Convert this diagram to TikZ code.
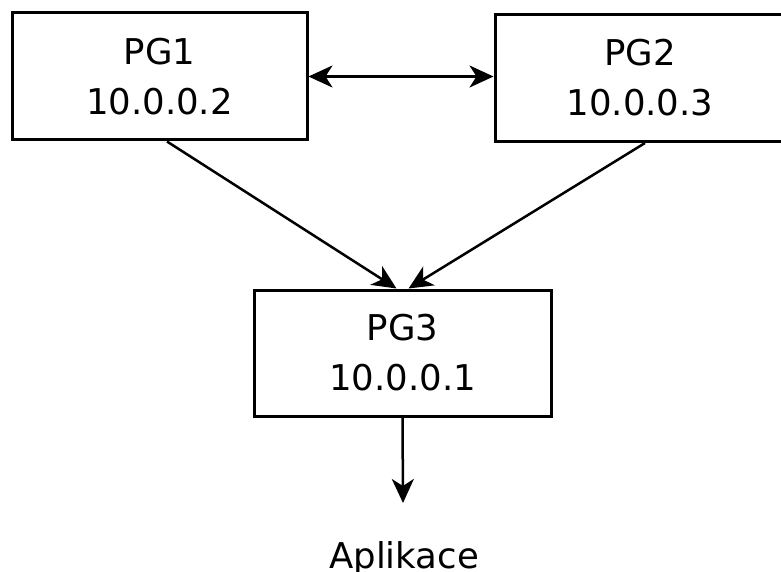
\documentclass[tikz,border=0pt]{standalone}
\usepackage{fontspec}
\setmainfont{DejaVu Sans}
\usetikzlibrary{arrows.meta}
\begin{document}
\begin{tikzpicture}[x=1pt,y=-1pt,
  box/.style={draw=black,line width=3pt,minimum width=#1,inner sep=0pt,align=center,
    font=\fontsize{35.5}{50}\selectfont},
  tipstyle/.style={Stealth[length=24pt,width=22pt,inset=7pt]},
  conn/.style={line width=2.5pt,-{Stealth[length=24pt,width=22pt,inset=7pt]}},
  lbl/.style={inner sep=0pt,font=\fontsize{35.5}{42}\selectfont}]
\useasboundingbox (0,0) rectangle (781,572);
\clip (0,0) rectangle (781,572);
\node[box=295pt,minimum height=127pt] (pg1) at (159.5,76.5) {PG1\\10.0.0.2};
\node[box=290pt,minimum height=127pt] (pg2) at (640,78) {PG2\\10.0.0.3};
\node[box=297pt,minimum height=126pt] (pg3) at (402.5,353) {PG3\\10.0.0.1};
\node[lbl,anchor=base] (app) at (404,568) {Aplikace};
\coordinate (tip) at (403,503);
\draw[line width=2.5pt,{Stealth[length=24pt,width=22pt,inset=7pt]}-{Stealth[length=24pt,width=22pt,inset=7pt]}] (pg1.east) -- (pg1.east -| pg2.west);
\draw[conn] ([xshift=7.5pt]pg1.south) -- ([xshift=-6pt]pg3.north);
\draw[conn] ([xshift=5pt]pg2.south) -- ([xshift=6pt]pg3.north);
\draw[conn] (pg3.south) -- (tip);
\end{tikzpicture}
\end{document}
